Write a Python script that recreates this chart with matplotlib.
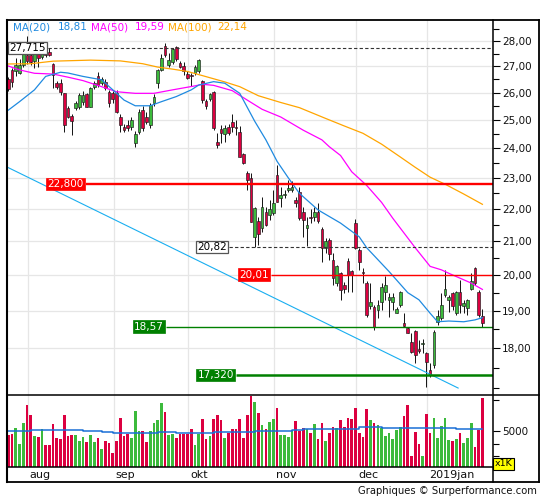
import matplotlib
matplotlib.use("Agg")
import matplotlib.pyplot as plt
from matplotlib.lines import Line2D
from matplotlib.ticker import FixedLocator, FuncFormatter, NullFormatter

# ---------------- data (trading-day index 0..127, late Jul 2018 -> Jan 2019) ----------------
opens = [26.50, 26.86, 26.80, 26.73, 27.06, 27.45, 27.44, 27.22, 27.51, 27.38,
         27.48, 27.58, 27.09, 26.37, 26.37, 25.97, 25.42, 25.13, 25.44, 25.48,
         25.66, 25.95, 25.48, 26.22, 26.61, 26.37, 26.41, 26.03, 25.97, 25.99,
         25.11, 24.75, 24.81, 24.75, 24.19, 24.57, 25.35, 25.11, 24.81, 25.60,
         26.35, 26.86, 27.78, 27.06, 27.18, 27.75, 27.12, 27.02, 26.71, 26.67,
         26.73, 26.80, 26.45, 25.69, 25.75, 26.03, 24.23, 24.66, 24.50, 24.75,
         24.93, 24.75, 24.55, 23.80, 23.17, 22.98, 21.13, 21.62, 21.39, 21.91,
         21.80, 21.85, 23.09, 22.33, 22.44, 22.60, 22.60, 22.28, 22.55, 21.91,
         21.39, 21.75, 21.75, 21.91, 21.36, 20.78, 21.03, 20.44, 19.77, 20.06,
         19.72, 20.42, 20.13, 21.55, 20.73, 20.10, 19.77, 19.12, 19.11, 19.02,
         19.25, 19.53, 19.29, 19.25, 18.95, 19.16, 18.66, 18.53, 18.17, 18.44,
         17.98, 18.12, 17.87, 17.45, 17.58, 18.70, 18.80, 19.44, 19.29, 19.48,
         18.93, 19.51, 19.13, 19.06, 19.60, 20.20, 19.53, 18.86]
highs = [26.58, 26.92, 27.31, 27.28, 27.64, 28.22, 27.84, 27.60, 27.58, 27.60,
         27.70, 27.71, 27.12, 26.45, 26.50, 26.00, 25.50, 25.20, 25.70, 26.00,
         26.05, 26.00, 26.20, 26.45, 26.76, 26.60, 26.50, 26.10, 26.05, 26.10,
         25.20, 24.85, 25.00, 25.10, 24.60, 25.40, 25.50, 25.30, 25.60, 25.95,
         26.90, 27.50, 27.93, 27.51, 27.72, 27.80, 27.20, 27.18, 26.80, 26.75,
         27.05, 27.28, 26.48, 25.75, 26.00, 26.05, 24.52, 24.81, 24.80, 24.85,
         25.20, 24.99, 24.77, 23.85, 23.24, 23.15, 22.05, 21.75, 22.39, 22.07,
         22.28, 22.60, 23.43, 22.71, 22.60, 22.93, 22.88, 22.39, 22.71, 22.07,
         21.75, 22.00, 22.07, 22.17, 21.44, 21.08, 21.08, 20.63, 20.30, 20.10,
         19.80, 20.49, 20.15, 21.67, 20.78, 20.20, 19.82, 19.77, 19.16, 19.30,
         19.77, 19.96, 19.48, 19.48, 19.10, 19.55, 18.93, 18.57, 18.39, 18.48,
         18.21, 18.25, 17.90, 17.62, 18.48, 19.02, 19.48, 20.15, 19.44, 19.51,
         19.55, 19.86, 19.30, 19.32, 20.06, 20.23, 19.56, 19.04]
lows = [26.07, 26.22, 26.61, 26.70, 26.99, 27.10, 27.06, 26.95, 26.99, 27.30,
        27.35, 27.42, 26.16, 26.15, 25.90, 24.57, 25.05, 24.46, 25.35, 25.40,
        25.55, 25.45, 25.45, 26.15, 26.20, 26.30, 26.10, 25.45, 25.60, 25.25,
        24.57, 24.55, 24.60, 24.65, 24.05, 24.50, 24.60, 24.85, 24.70, 25.50,
        26.16, 26.80, 27.38, 26.99, 27.10, 27.20, 26.95, 26.67, 26.50, 26.25,
        26.65, 26.74, 25.60, 25.40, 25.70, 24.65, 23.99, 24.17, 24.20, 24.45,
        24.57, 24.46, 23.69, 23.45, 22.60, 21.58, 20.83, 20.88, 21.28, 21.45,
        21.65, 21.80, 22.20, 22.06, 22.35, 22.55, 22.55, 22.06, 21.65, 21.13,
        20.85, 21.55, 21.60, 21.55, 20.39, 20.63, 20.45, 19.72, 19.70, 19.29,
        19.50, 19.53, 19.53, 20.75, 20.15, 19.77, 18.84, 19.05, 18.48, 18.80,
        19.02, 19.29, 18.84, 19.02, 18.93, 19.11, 18.57, 18.39, 17.89, 17.62,
        17.87, 17.87, 17.03, 17.28, 17.50, 18.62, 18.75, 19.39, 18.97, 19.02,
        18.88, 18.93, 18.93, 18.88, 19.58, 19.72, 18.84, 18.55]
closes = [26.15, 26.41, 27.06, 27.06, 27.48, 27.20, 27.18, 27.51, 27.31, 27.51,
          27.45, 27.45, 26.67, 26.22, 26.03, 24.81, 25.11, 24.95, 25.62, 25.91,
          25.91, 25.48, 26.16, 26.35, 26.28, 26.50, 26.16, 25.60, 25.75, 25.30,
          24.81, 24.63, 24.70, 24.99, 24.49, 25.29, 24.69, 24.93, 25.54, 25.85,
          26.86, 27.31, 27.44, 27.25, 27.68, 27.28, 26.99, 26.80, 26.54, 26.61,
          26.99, 27.25, 25.72, 25.50, 25.95, 24.69, 24.11, 24.52, 24.69, 24.52,
          24.75, 24.69, 23.71, 23.48, 22.93, 21.59, 22.01, 21.23, 22.07, 21.49,
          21.98, 22.19, 22.22, 22.44, 22.48, 22.65, 22.71, 22.19, 21.70, 21.65,
          21.48, 21.70, 21.91, 21.60, 20.78, 21.01, 20.60, 19.91, 20.25, 19.58,
          19.60, 20.01, 20.01, 20.78, 20.39, 20.06, 18.88, 19.25, 18.57, 19.15,
          19.67, 19.72, 19.39, 19.39, 19.04, 19.53, 18.59, 18.41, 17.91, 17.83,
          17.94, 18.14, 17.66, 17.33, 18.43, 18.86, 19.16, 19.60, 19.39, 19.13,
          19.53, 19.16, 19.22, 19.29, 19.82, 19.77, 18.88, 18.66]
volumes = [4680, 4760, 5210, 3960, 5640, 7080, 6280, 4600, 4520, 5130,
           3880, 3880, 5560, 4410, 4360, 6280, 4600, 4680, 4680, 4200,
           4520, 4120, 4680, 4120, 4440, 3560, 4200, 4040, 3240, 4200,
           6040, 4600, 4760, 4440, 6600, 5000, 5000, 4120, 5000, 5640,
           5880, 7240, 6520, 4680, 4760, 4440, 4760, 4760, 4760, 5160,
           3880, 4760, 5960, 4360, 4600, 5960, 6280, 5880, 4440, 4840,
           5160, 5160, 5960, 4440, 6280, 7830, 7320, 6440, 5480, 5130,
           5720, 5930, 6810, 4680, 4680, 4490, 5030, 5800, 4970, 5240,
           5130, 4810, 5560, 4360, 5640, 4230, 4810, 5290, 5210, 5880,
           5290, 6040, 5990, 6840, 4870, 4490, 6760, 5880, 5640, 5480,
           5270, 4600, 4870, 4360, 5080, 5290, 6200, 7050, 3000, 4920,
           3960, 3000, 6360, 4870, 6040, 4440, 5400, 6040, 4280, 4200,
           4360, 4810, 4010, 4440, 5640, 3720, 5080, 7640]

ma20_idx = [0, 3, 7, 10, 14, 16, 20, 25, 28, 31, 34, 38, 41, 45, 49, 51, 55, 58, 62, 66,
            69, 72, 75, 78, 83, 89, 94, 96, 102, 107, 110, 113, 115, 118, 122, 125, 127]
ma20_val = [25.35, 25.66, 26.10, 26.61, 26.77, 26.74, 26.61, 26.48, 26.10, 25.72, 25.51,
            25.51, 25.66, 25.85, 26.10, 26.28, 26.41, 26.35, 25.97, 24.95, 24.29, 23.55,
            23.00, 22.49, 21.96, 21.55, 21.13, 20.80, 20.10, 19.50, 19.30, 18.93, 18.70,
            18.72, 18.70, 18.75, 18.81]
ma50_idx = [0, 3, 7, 12, 16, 20, 25, 29, 34, 39, 44, 50, 52, 55, 60, 64, 68, 73, 79, 84,
            86, 89, 92, 96, 100, 103, 109, 113, 116, 118, 124, 127]
ma50_val = [27.01, 26.86, 26.73, 26.70, 26.58, 26.45, 26.22, 26.03, 25.97, 25.97, 26.10,
            26.25, 26.31, 26.27, 26.07, 25.72, 25.38, 25.10, 24.63, 24.29, 24.05, 23.75,
            23.20, 22.75, 22.20, 21.70, 20.80, 20.25, 20.15, 20.05, 19.77, 19.59]
ma100_idx = [0, 6, 12, 22, 30, 36, 40, 44, 48, 53, 58, 62, 67, 73, 78, 85, 90, 95, 100,
             105, 109, 113, 117, 122, 127]
ma100_val = [27.09, 27.10, 27.20, 27.24, 27.21, 27.10, 26.97, 26.89, 26.80, 26.60, 26.40,
             26.22, 25.88, 25.63, 25.44, 25.05, 24.78, 24.52, 24.14, 23.70, 23.35, 23.02,
             22.79, 22.47, 22.14]
vma_idx = [0, 6, 20, 25, 28, 40, 45, 55, 66, 76, 79, 94, 97, 100, 120, 127]
vma_val = [5000, 5080, 4970, 4950, 4870, 4890, 4810, 4890, 4970, 5080, 5160, 5320, 5350,
           5270, 5190, 5190]

trend_idx = [-0.35, 120.5]
trend_val = [23.36, 17.00]

level_vals = [27.715, 22.800, 20.82, 20.01, 18.57, 17.320]
level_txt = ['27,715', '22,800', '20,82', '20,01', '18,57', '17,320']
level_kind = ['dash', 'red', 'dash', 'red', 'green', 'green']

month_idx = [5, 28, 48, 71, 93, 112]
month_lbl = ['aug', 'sep', 'okt', 'nov', 'dec', '2019jan']

price_ticks = [18, 19, 20, 21, 22, 23, 24, 25, 26, 27, 28]
price_minor = [17, 17.5, 18.5, 19.5, 20.5, 21.5, 22.5, 23.5, 24.5, 25.5, 26.5, 27.5, 28.5]

# ---------------- layout ----------------
W, H = 545, 500
fig = plt.figure(figsize=(W / 100, H / 100), dpi=100)
fig.patch.set_facecolor('white')


def fx(px):
    return px / W


def fy(py):
    return 1 - py / H


LEFT, RIGHT, TOP, MID, VBOT, DBOT, OUTR = 7, 493, 20, 395, 467, 482, 539
RED = '#dc0040'
GREEN = '#3cba3c'
C20, C50, C100 = '#1f8ae0', '#ff00ff', '#ffa500'
GRID = '#e6e6e6'
XMIN, XMAX = -0.35, 129.84

ax = fig.add_axes([fx(LEFT), fy(MID), fx(RIGHT) - fx(LEFT), fy(TOP) - fy(MID)])
axv = fig.add_axes([fx(LEFT), fy(VBOT), fx(RIGHT) - fx(LEFT), fy(MID) - fy(VBOT)])

for a in (ax, axv):
    a.set_xlim(XMIN, XMAX)
    for s in a.spines.values():
        s.set_visible(False)
    a.set_xticks([m + 0.2 for m in month_idx])
    a.tick_params(axis='x', length=0, labelbottom=False)
    a.grid(True, axis='x', color=GRID, lw=0.9)
    a.set_axisbelow(True)

# price axis
ax.set_yscale('log')
ax.set_ylim(16.831, 28.858)
ax.yaxis.set_major_locator(FixedLocator(price_ticks))
ax.yaxis.set_minor_locator(FixedLocator(price_minor))
ax.yaxis.set_major_formatter(FuncFormatter(lambda v, p: f"{v:.2f}".replace('.', ',')))
ax.yaxis.set_minor_formatter(NullFormatter())
ax.yaxis.tick_right()
ax.tick_params(axis='y', which='major', direction='out', length=5, width=0.8,
               pad=1.5, labelsize=7.5, labelcolor='#111111')
ax.tick_params(axis='y', which='minor', direction='out', length=4, width=0.8)
ax.grid(True, axis='y', which='major', color=GRID, lw=0.9)

# candles
idx = list(range(len(closes)))
cols = [GREEN if c >= o else RED for o, c in zip(opens, closes)]
ax.vlines(idx, lows, highs, color='#111111', lw=0.7, zorder=2)
bott = [min(o, c) for o, c in zip(opens, closes)]
hts = [max(abs(c - o), 0.025) for o, c in zip(opens, closes)]
ax.bar(idx, hts, bottom=bott, width=0.72, color=cols, edgecolor='#1a1a1a',
       linewidth=0.45, zorder=3)

# moving averages & trend line
ax.plot(ma100_idx, ma100_val, color=C100, lw=0.9, zorder=4)
ax.plot(ma50_idx, ma50_val, color=C50, lw=0.9, zorder=4)
ax.plot(ma20_idx, ma20_val, color=C20, lw=0.9, zorder=4)
ax.plot(trend_idx, trend_val, color='#19aef0', lw=0.8, zorder=4)

# levels
level_from = [10.7, 20.8, 59.1, 70.4, 42.2, 61.0]
level_lw = [0.8, 1.7, 0.8, 1.0, 1.0, 1.8]
for v, t, k, x0, lw in zip(level_vals, level_txt, level_kind, level_from, level_lw):
    if k == 'dash':
        ax.plot([x0, XMAX], [v, v], color='#333333', lw=lw, ls=(0, (3, 2)), zorder=5)
        bb = dict(boxstyle='square,pad=0.12', fc='white', ec='#555555', lw=0.9)
        tc = 'black'
    else:
        c = '#ff0000' if k == 'red' else '#008000'
        ax.plot([x0, XMAX], [v, v], color=c, lw=lw, zorder=5, solid_capstyle='butt')
        bb = dict(boxstyle='square,pad=0.12', fc=c, ec=c, lw=0.5)
        tc = 'white'
    ax.annotate(t, xy=(x0, v), xytext=(-1.5, 0), textcoords='offset points',
                ha='right', va='center', fontsize=7.5, color=tc, bbox=bb, zorder=6)

# volume
axv.set_ylim(2120, 7880)
axv.bar(idx, volumes, width=0.72, color=cols, linewidth=0, zorder=2)
axv.plot(vma_idx, vma_val, color='#1a6fd6', lw=1.1, drawstyle='steps-post', zorder=3)
axv.yaxis.tick_right()
axv.yaxis.set_major_locator(FixedLocator([5000]))
axv.yaxis.set_minor_locator(FixedLocator([3000, 4000, 7500]))
axv.yaxis.set_major_formatter(FuncFormatter(lambda v, p: f"{int(v)}"))
axv.yaxis.set_minor_formatter(NullFormatter())
axv.tick_params(axis='y', which='major', direction='out', length=5, width=0.8,
                pad=1.5, labelsize=7.5, labelcolor='#111111')
axv.tick_params(axis='y', which='minor', direction='out', length=4, width=0.8)

# month labels
for m, lab in zip(month_idx, month_lbl):
    axv.annotate(lab, xy=(m + 0.2, 0), xycoords=axv.get_xaxis_transform(),
                 xytext=(1.5, -5.4), textcoords='offset points',
                 ha='left', va='center', fontsize=8, color='#111111')

# frame
def fline(x0, y0, x1, y1, lw):
    fig.add_artist(Line2D([fx(x0), fx(x1)], [fy(y0), fy(y1)], transform=fig.transFigure,
                          color='black', lw=lw, solid_capstyle='projecting'))


fline(LEFT, TOP, OUTR, TOP, 1.3)
fline(LEFT, TOP, LEFT, DBOT, 1.5)
fline(OUTR, TOP, OUTR, DBOT, 1.3)
fline(LEFT, DBOT, OUTR, DBOT, 1.3)
fline(RIGHT, TOP, RIGHT, DBOT, 1.1)
fline(LEFT, MID, OUTR, MID, 1.1)
fline(LEFT, VBOT, RIGHT, VBOT, 1.1)

# header legend
fmt = lambda v: f"{v:.2f}".replace('.', ',')
hdr = [(13.3, 'MA(20)', C20), (57.7, fmt(ma20_val[-1]), C20),
       (90.7, 'MA(50)', C50), (135.0, fmt(ma50_val[-1]), C50),
       (168.3, 'MA(100)', C100), (217.3, fmt(ma100_val[-1]), C100)]
for xp, t, c in hdr:
    fig.text(fx(xp), fy(27), t, color=c, fontsize=7.5, ha='left', va='center')

fig.text(fx(503.5), fy(464), 'x1K', ha='center', va='center', fontsize=6.8,
         bbox=dict(boxstyle='square,pad=0.12', fc='#ffff00', ec='black', lw=0.8))
fig.text(fx(537), fy(491), 'Graphiques \u00a9 Surperformance.com', ha='right',
         va='center', fontsize=7.2, color='#111111')

fig.savefig('out.png', dpi=100, facecolor='white')
